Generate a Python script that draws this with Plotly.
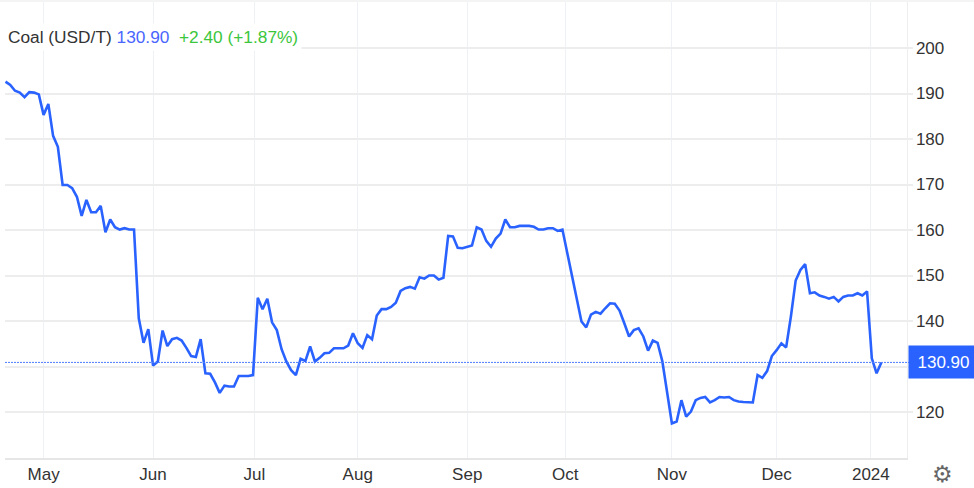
import plotly.graph_objects as go

W, H = 974, 488
series_name = "Coal (USD/T)"
last_label = "130.90"
change_label = "+2.40 (+1.87%)"
values = [
 192.6,191.9,190.6,190.2,189.2,190.3,190.2,189.8,185.3,187.7,180.7,178.3,169.9,169.9,169.2,167.3,163.1,166.6,163.9,163.9,
 165.3,159.5,162.3,160.6,160.1,160.4,160.1,160.1,140.6,135.2,138.2,130.2,131.1,137.9,134.5,136.0,136.3,135.7,134.1,132.3,
 132.1,136.0,128.5,128.4,126.5,124.2,125.8,125.6,125.6,127.9,127.9,127.9,128.1,145.1,142.6,144.9,139.7,138.0,133.8,131.1,
 129.2,128.1,131.7,131.2,134.4,131.1,131.9,132.9,133.0,134.0,134.0,134.0,134.6,137.3,135.1,134.1,136.9,136.0,141.2,142.6,
 142.6,143.1,144.0,146.6,147.2,147.5,147.1,149.6,149.3,150.0,150.0,149.1,149.5,158.7,158.6,156.1,156.0,156.3,156.6,160.6,
 160.1,157.6,156.3,158.1,159.2,162.3,160.6,160.6,160.9,160.9,160.9,160.7,160.1,160.1,160.4,160.4,159.8,160.1,155.1,150.0,
 145.0,139.9,138.6,141.4,142.0,141.6,142.8,143.9,143.8,142.3,139.5,136.6,138.0,138.4,136.6,133.5,135.7,135.2,131.1,124.0,
 117.5,117.9,122.6,119.0,120.1,122.6,123.1,123.3,122.1,122.6,123.3,123.2,123.3,122.6,122.3,122.2,122.2,122.1,128.1,127.5,
 129.0,132.3,133.6,135.1,134.2,141.0,148.9,151.2,152.5,146.1,146.3,145.6,145.3,144.9,145.3,144.3,145.3,145.6,145.6,146.1,
 145.6,146.5,131.8,128.5,130.9]
trading_day = list(range(len(values)))
month_ticks = [8, 31, 52.3, 74, 97, 117.6, 140, 162, 181.8]
month_labels = ["May", "Jun", "Jul", "Aug", "Sep", "Oct", "Nov", "Dec", "2024"]
price_ticks = [120, 130, 140, 150, 160, 170, 180, 190, 200]
price_labels = ["120", "", "140", "150", "160", "170", "180", "190", "200"]
last_value = values[-1]

BLUE = "#2962ff"
FONT = "Liberation Sans"
L, R, T, B = 5, 906.5, 2, 458

fig = go.Figure()
fig.add_trace(go.Scatter(x=trading_day, y=values, mode="lines",
                         line=dict(color=BLUE, width=2.6), hoverinfo="skip"))
fig.update_layout(
    width=W, height=H, autosize=False, showlegend=False,
    margin=dict(l=0, r=0, t=0, b=0),
    paper_bgcolor="white", plot_bgcolor="white",
    font=dict(family=FONT, size=17, color="#333333"),
    xaxis=dict(domain=[L / W, R / W], range=[(L - 5.5) / 4.76, (R - 5.5) / 4.76],
               tickmode="array", tickvals=month_ticks, ticktext=month_labels,
               showgrid=True, gridcolor="#eef2f6", gridwidth=1,
               ticks="", zeroline=False, showline=True, linecolor="#e6e6e6", linewidth=2),
    yaxis=dict(domain=[1 - B / H, 1 - T / H], side="right", anchor="x",
               range=[120 + (412 - B) / 4.55, 120 + (412 - T) / 4.55],
               tickmode="array", tickvals=price_ticks, ticktext=price_labels,
               tickfont=dict(size=17),
               showgrid=True, gridcolor="#ededed", gridwidth=1.5,
               ticks="outside", ticklen=5, tickcolor="#ededed", tickwidth=1.5,
               zeroline=False, showline=True, linecolor="#eeeeee", linewidth=1),
)
fig.add_shape(type="line", xref="paper", x0=L / W, x1=1, yref="y", y0=last_value, y1=last_value,
              line=dict(color="#4f7dff", width=1, dash="2px,1px"), layer="above")
fig.add_shape(type="rect", xref="paper", x0=0, x1=1, yref="paper", y0=1 - 2 / H, y1=1,
              fillcolor="#f4f4f4", line=dict(width=0), layer="above")
fig.add_annotation(
    xref="paper", yref="paper", x=4 / W, y=1 - 37 / H, xanchor="left", yanchor="middle",
    showarrow=False, bgcolor="white", align="left", borderpad=3,
    text=(f'<span style="color:#333333">{series_name}</span> '
          f'<span style="color:#4a66ff">{last_label}</span>  '
          f'<span style="color:#3cc63c">{change_label}</span>'),
    font=dict(family=FONT, size=17.3))
fig.add_annotation(
    xref="paper", yref="y", x=907.5 / W, y=last_value, xanchor="left", yanchor="middle",
    showarrow=False, bgcolor=BLUE, width=67, height=30, align="center",
    text=last_label, font=dict(family=FONT, size=17, color="white"))
fig.add_annotation(
    xref="paper", yref="paper", x=942 / W, y=1 - 474 / H, xanchor="center", yanchor="middle",
    showarrow=False, text="\u2699", font=dict(family="DejaVu Sans", size=23, color="#666666"))

fig.write_html("out.html", config=dict(displayModeBar=False),
               post_script="document.body.style.margin='0';")
